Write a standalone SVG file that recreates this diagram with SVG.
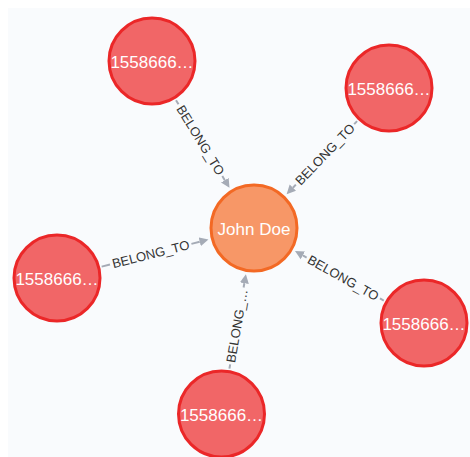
<svg xmlns="http://www.w3.org/2000/svg" width="470" height="457" viewBox="0 0 470 457">
<style>
.bg{fill:#F9FBFD}
.red circle{fill:#F16667;stroke:#EB2728;stroke-width:3}
.org circle{fill:#F79767;stroke:#F36924;stroke-width:3}
.node text{font-family:"Liberation Sans",Arial,sans-serif;font-size:17px;fill:#FFFFFF;text-anchor:middle}
.edge line{stroke:#A5ABB6;stroke-width:2}
.edge text{font-family:"Liberation Sans",Arial,sans-serif;font-size:13px;fill:#333333;text-anchor:middle}
</style>
<defs>
<marker id="arr" viewBox="0 -5 10 10" refX="0" refY="0" markerWidth="10" markerHeight="10" markerUnits="userSpaceOnUse" orient="auto">
<path d="M0,-4.5 L9,0 L0,4.5Z" fill="#A5ABB6"/>
</marker>
</defs>
<rect class="bg" x="8" y="8" width="462" height="449"/>
<g id="connectors">
<g class="edge" transform="translate(200.4,140.2) rotate(58.6)">
<line x1="-46.85" y1="0" x2="-42" y2="0"/>
<line x1="42" y1="0" x2="46.85" y2="0" marker-end="url(#arr)"/>
<text x="0" y="4.5">BELONG_TO</text>
</g>
<g class="edge" transform="translate(325,154.4) rotate(-46.04)">
<line x1="46.25" y1="0" x2="42" y2="0"/>
<line x1="-42" y1="0" x2="-46.25" y2="0" marker-end="url(#arr)"/>
<text x="0" y="4.5">BELONG_TO</text>
</g>
<g class="edge" transform="translate(150.7,254.2) rotate(-14.24)">
<line x1="-50.6" y1="0" x2="-42" y2="0"/>
<line x1="42" y1="0" x2="50.6" y2="0" marker-end="url(#arr)"/>
<text x="0" y="4.5">BELONG_TO</text>
</g>
<g class="edge" transform="translate(343.3,278) rotate(29.2)">
<line x1="46.35" y1="0" x2="42" y2="0"/>
<line x1="-42" y1="0" x2="-46.35" y2="0" marker-end="url(#arr)"/>
<text x="0" y="4.5">BELONG_TO</text>
</g>
<g class="edge" transform="translate(236.9,325.9) rotate(-80.09)">
<line x1="-43.4" y1="0" x2="-39" y2="0"/>
<line x1="39" y1="0" x2="43.4" y2="0" marker-end="url(#arr)"/>
<text x="0" y="4.5">BELONG_…</text>
</g>
</g>
<g id="john" class="node org"><circle cx="254" cy="228" r="43"/><text x="254" y="235">John Doe</text></g>
<g id="n1" class="node red"><circle cx="152" cy="61" r="43"/><text x="152" y="68">1558666…</text></g>
<g id="n2" class="node red"><circle cx="389" cy="88" r="43"/><text x="389" y="95">1558666…</text></g>
<g id="n3" class="node red"><circle cx="57" cy="278" r="43"/><text x="57" y="285">1558666…</text></g>
<g id="n4" class="node red"><circle cx="424" cy="323" r="43"/><text x="424" y="330">1558666…</text></g>
<g id="n5" class="node red"><circle cx="221.5" cy="414" r="43"/><text x="221.5" y="421">1558666…</text></g>
</svg>
